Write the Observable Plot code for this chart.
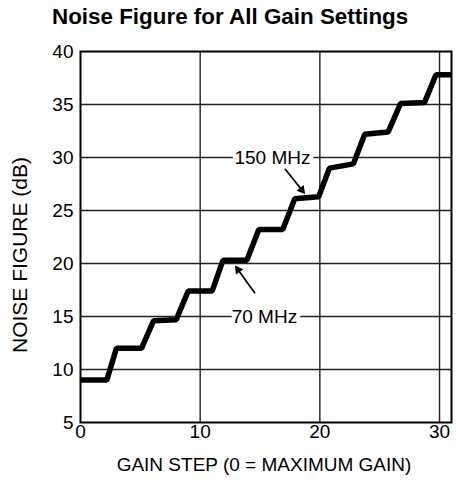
<!DOCTYPE html>
<html><head><meta charset="utf-8">
<script src="https://cdn.jsdelivr.net/npm/d3@7"></script>
<script src="https://cdn.jsdelivr.net/npm/@observablehq/plot@0.6"></script>
<style>
body{margin:0;background:#fff;font-family:"Liberation Sans",Arial,sans-serif;}
#title{height:34px;box-sizing:border-box;padding:6px 0 0 52px;font-weight:bold;font-size:22.4px;line-height:22px;color:#000;white-space:nowrap;}
#chart svg{display:block;}
</style></head>
<body>
<div id="title">Noise Figure for All Gain Settings</div>
<div id="chart"></div>
<script>
// Staircase: gain step vs noise figure (dB)
const gainStep = [0, 2.2, 3.0, 5.1, 6.1, 8.0, 9.0, 11.0, 11.9, 13.9, 14.9, 16.9, 17.9, 19.9, 20.8, 22.8, 23.75, 25.7, 26.75, 28.75, 29.7, 31];
const noiseFigure = [9.0, 9.0, 12.0, 12.0, 14.6, 14.7, 17.4, 17.4, 20.3, 20.3, 23.2, 23.2, 26.1, 26.3, 29.0, 29.4, 32.2, 32.4, 35.1, 35.2, 37.8, 37.8];
const xTicks = [0, 10, 20, 30];
const yTicks = [5, 10, 15, 20, 25, 30, 35, 40];
const xGrid = [10, 20, 30];
const yGrid = [10, 15, 20, 25, 30, 35];
// annotations
const labelText = ["150 MHz", "70 MHz"];
const labelX = [16.04, 15.37];
const labelY = [30, 15];
const arrowX1 = [17.08, 14.58];
const arrowY1 = [28.93, 17.2];
const arrowX2 = [18.75, 12.92];
const arrowY2 = [26.58, 19.8];

const W = 460, H = 452, mT = 17, mB = 64, mL = 80, mR = 9;
const xDomain = [0, 31], yDomain = [5, 40];
const kx = (W - mL - mR) / (xDomain[1] - xDomain[0]);
const ky = (H - mT - mB) / (yDomain[1] - yDomain[0]);

const data = gainStep.map((g, i) => ({x: g, y: noiseFigure[i]}));
const labels = labelText.map((t, i) => ({t, x: labelX[i], y: labelY[i]}));
const arrows = arrowX1.map((x1, i) => {
  const x2 = arrowX2[i], y2 = arrowY2[i], y1 = arrowY1[i];
  const sx = (x2 - x1) * kx, sy = -(y2 - y1) * ky; // screen direction
  const len = Math.hypot(sx, sy), ux = sx / len, uy = sy / len;
  const back = 5; // px from tip to triangle centre
  return {x1, y1, x2, y2,
    hx: x2 - back * ux / kx, hy: y2 + back * uy / ky,
    rot: Math.atan2(sy, sx) * 180 / Math.PI + 90};
});

const chart = Plot.plot({
  width: W,
  height: H,
  marginTop: mT,
  marginBottom: mB,
  marginLeft: mL,
  marginRight: mR,
  style: {fontFamily: '"Liberation Sans", Arial, sans-serif', fontSize: "19px", color: "#000", background: "#fff"},
  x: {domain: xDomain},
  y: {domain: yDomain},
  marks: [
    Plot.ruleX(xGrid, {stroke: "#222", strokeWidth: 1.4}),
    Plot.ruleY(yGrid, {stroke: "#222", strokeWidth: 1.4}),
    Plot.text(labels, {x: "x", y: "y", text: "t", fontSize: 19, fill: "#000", stroke: "#fff", strokeWidth: 9, paintOrder: "stroke"}),
    Plot.link(arrows, {x1: "x1", y1: "y1", x2: "hx", y2: "hy", stroke: "#000", strokeWidth: 1.7}),
    Plot.dot(arrows, {x: "hx", y: "hy", symbol: "triangle", r: 3.4, fill: "#000", stroke: "none", rotate: "rot"}),
    Plot.line(data, {x: "x", y: "y", stroke: "#000", strokeWidth: 5.5, strokeLinejoin: "miter", strokeLinecap: "butt"}),
    Plot.frame({stroke: "#000", strokeWidth: 2}),
    Plot.axisX(xTicks, {tickSize: 0, tickPadding: 2, fontSize: 19, label: null}),
    Plot.axisY(yTicks, {tickSize: 0, tickPadding: 7, fontSize: 19, label: null}),
    Plot.text(["GAIN STEP (0 = MAXIMUM GAIN)"], {frameAnchor: "bottom", dy: 48, dx: -2, fontSize: 19, fill: "#000"}),
    Plot.text(["NOISE FIGURE (dB)"], {frameAnchor: "left", textAnchor: "middle", dx: -60, dy: 18, rotate: -90, fontSize: 21, fill: "#000"})
  ]
});
document.getElementById("chart").appendChild(chart);
</script>
</body></html>
